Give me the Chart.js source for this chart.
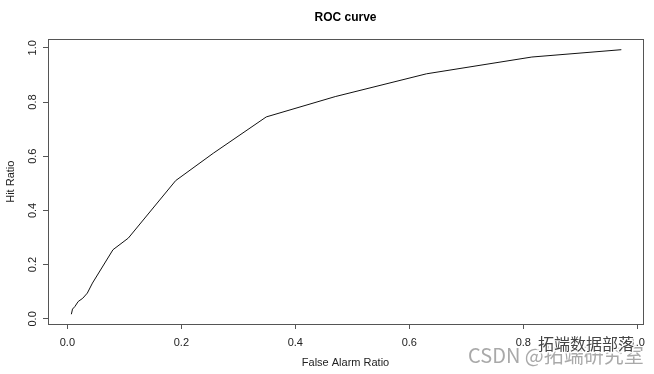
<!DOCTYPE html>
<html>
<head>
<meta charset="utf-8">
<script src="https://cdn.jsdelivr.net/npm/chart.js@4"></script>
<style>
  html, body { margin: 0; padding: 0; background: #fff; }
  #wrap { width: 654px; height: 374px; }
</style>
</head>
<body>
<div id="wrap"><canvas id="roc" width="654" height="374"></canvas></div>
<script>
// ROC curve points
const falseAlarm = [0.007, 0.009, 0.013, 0.019, 0.027, 0.035, 0.044, 0.080, 0.107, 0.190, 0.256, 0.349, 0.470, 0.630, 0.815, 0.972];
const hitRatio   = [0.017, 0.036, 0.045, 0.064, 0.076, 0.095, 0.132, 0.255, 0.298, 0.510, 0.611, 0.745, 0.820, 0.904, 0.966, 0.993];
const xTicks = [0, 0.2, 0.4, 0.6, 0.8, 1.0];
const yTicks = [0, 0.2, 0.4, 0.6, 0.8, 1.0];

const tickFont = { family: 'Liberation Sans, Arial, sans-serif', size: 11 };

// box round the plot, rotated y labels (R style), watermark
const extras = {
  id: 'extras',
  afterDraw(chart) {
    const c = chart.ctx;
    const a = chart.chartArea;
    c.save();
    c.strokeStyle = '#555';
    c.lineWidth = 1;
    c.strokeRect(Math.round(a.left) + 0.5, Math.round(a.top) + 0.5,
                 Math.round(a.right - a.left), Math.round(a.bottom - a.top));

    const ys = chart.scales.y;
    c.fillStyle = '#222';
    c.font = '11px Liberation Sans, Arial, sans-serif';
    c.textAlign = 'center';
    c.textBaseline = 'middle';
    yTicks.forEach(v => {
      c.save();
      c.translate(32.5, ys.getPixelForValue(v));
      c.rotate(-Math.PI / 2);
      c.fillText(v.toFixed(1), 0, 0);
      c.restore();
    });

    // watermark
    c.textAlign = 'left';
    c.textBaseline = 'alphabetic';
    c.font = '20px "Noto Sans CJK SC", sans-serif';
    c.fillStyle = 'rgba(140,140,140,0.75)';
    c.fillText('CSDN @拓端研究室', 468, 363);
    c.font = '16px "Noto Sans CJK SC", sans-serif';
    c.lineWidth = 3;
    c.strokeStyle = 'rgba(255,255,255,0.9)';
    c.strokeText('拓端数据部落', 538, 350);
    c.fillStyle = '#444';
    c.fillText('拓端数据部落', 538, 350);
    c.restore();
  }
};

new Chart(document.getElementById('roc'), {
  type: 'scatter',
  data: {
    datasets: [{
      data: falseAlarm.map((x, i) => ({ x: x, y: hitRatio[i] })),
      showLine: true,
      borderColor: '#111',
      borderWidth: 1,
      pointRadius: 0,
      tension: 0
    }]
  },
  options: {
    responsive: false,
    animation: false,
    layout: { padding: { left: 0, right: 11, top: 0, bottom: 0 } },
    plugins: {
      legend: { display: false },
      tooltip: { enabled: false },
      title: {
        display: true,
        text: 'ROC curve',
        fullSize: false,
        color: '#000',
        font: { family: 'Liberation Sans, Arial, sans-serif', size: 12, weight: 'bold' },
        padding: { top: 10, bottom: 15 }
      }
    },
    scales: {
      x: {
        type: 'linear',
        min: -0.034,
        max: 1.01,
        afterBuildTicks: s => { s.ticks = xTicks.map(v => ({ value: v })); },
        afterFit: s => { s.height = 50; },
        grid: { drawOnChartArea: false, drawTicks: true, tickLength: 5, color: '#555' },
        border: { display: false },
        ticks: { color: '#222', font: tickFont, padding: 7, maxRotation: 0,
                 callback: v => v.toFixed(1) },
        title: { display: true, text: 'False Alarm Ratio', color: '#222', font: tickFont,
                 padding: { top: 4, bottom: 4 } }
      },
      y: {
        type: 'linear',
        min: -0.019,
        max: 1.031,
        afterBuildTicks: s => { s.ticks = yTicks.map(v => ({ value: v })); },
        afterFit: s => { s.width = 48; },
        grid: { drawOnChartArea: false, drawTicks: true, tickLength: 5, color: '#555' },
        border: { display: false },
        ticks: { display: false },
        title: { display: true, text: 'Hit Ratio', color: '#222', font: tickFont,
                 padding: { top: 4, bottom: 4 } }
      }
    }
  },
  plugins: [extras]
});
</script>
</body>
</html>
